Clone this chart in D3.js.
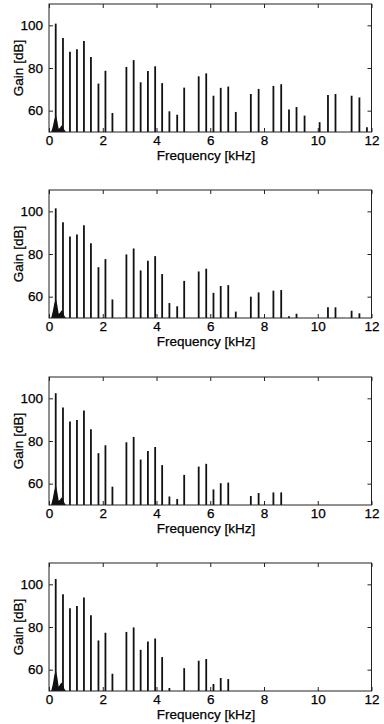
<!DOCTYPE html>
<html>
<head>
<meta charset="utf-8">
<script src="https://cdn.jsdelivr.net/npm/d3@7"></script>
<style>
  body { margin: 0; background: #fff; }
  text { font-family: "Liberation Sans", Arial, Helvetica, sans-serif; fill: #000; }
</style>
</head>
<body>
<script>
// harmonic peak frequencies (kHz), shared by all four spectra
const freqKHz = [0.25, 0.52, 0.78, 1.04, 1.30, 1.56, 1.84, 2.10, 2.36, 2.88, 3.15, 3.41, 3.68, 3.95,
                 4.21, 4.48, 4.77, 5.03, 5.57, 5.85, 6.12, 6.39, 6.67, 6.95, 7.51, 7.80, 8.35, 8.64,
                 8.93, 9.21, 9.51, 10.07, 10.38, 10.66, 11.26, 11.55, 11.83];

// peak gains (dB) per panel, null = no visible peak
const gain1 = [100.8, 94.1, 87.6, 88.8, 92.7, 85.1, 72.7, 78.7, 58.9, 80.5, 83.7, 73.3, 78.6, 80.8,
               72.9, 59.7, 58.1, 70.8, 76.1, 77.5, 67.0, 70.7, 71.3, 59.4, 67.8, 70.2, 71.6, 72.4,
               60.5, 61.7, 57.7, 54.6, 67.4, 67.8, 67.0, 66.2, 52.2];
const gain2 = [101.4, 94.9, 88.2, 89.1, 93.5, 85.0, 73.8, 77.6, 58.7, 79.8, 82.6, 72.3, 76.8, 79.0,
               70.6, 57.0, 55.5, 67.4, 71.8, 73.1, 61.8, 65.0, 65.4, 53.0, 60.0, 62.0, 62.8, 63.1,
               50.8, 52.0, null, null, 55.0, 55.0, 53.4, 52.2, null];
const gain3 = [102.4, 95.7, 89.1, 89.8, 94.3, 85.5, 74.3, 78.0, 58.6, 79.4, 81.9, 71.3, 75.3, 77.2,
               68.7, 54.0, 52.8, 64.1, 68.0, 69.3, 57.3, 60.2, 60.5, null, 54.2, 55.6, 55.9, 55.9,
               null, null, null, null, null, null, null, null, null];
const gain4 = [102.5, 95.3, 88.8, 89.9, 93.8, 85.5, 73.7, 77.3, 58.1, 77.7, 79.8, 69.3, 73.2, 74.6,
               65.9, 51.4, null, 60.7, 64.2, 65.0, 53.3, 56.1, 55.6, null, null, null, null, null,
               null, null, null, null, null, null, null, null, null];

// low-frequency noise hump under the first harmonics
const humpKHz = [0.08, 0.14, 0.20, 0.26, 0.31, 0.36, 0.41, 0.46, 0.52, 0.57, 0.63];
const hump1 = [50, 52.5, 56, 57.8, 55, 51.5, 52, 53, 52.5, 51, 50];
const hump2 = [50, 53, 57, 58.8, 56, 52, 52.5, 53.5, 53, 51, 50];
const hump3 = [50, 53, 57, 59, 56, 52, 52.5, 53.5, 53, 51, 50];
const hump4 = [50, 53, 57.5, 59.5, 56.5, 52, 53, 54, 53, 51, 50];

const xTicks = [0, 2, 4, 6, 8, 10, 12];
const yTicks = [60, 80, 100];

const panels = [
  { top: 4,   gains: gain1, hump: hump1 },
  { top: 190, gains: gain2, hump: hump2 },
  { top: 377, gains: gain3, hump: hump3 },
  { top: 563, gains: gain4, hump: hump4 }
];

const W = 384, H = 724,
      left = 49, right = 371.5, plotH = 128,
      fs = "13.5px";

const svg = d3.select("body").append("svg")
    .attr("width", W)
    .attr("height", H)
    .style("background-color", "white");

const x = d3.scaleLinear().domain([0, 12]).range([left, right]);

panels.forEach(function(p) {
  const y = d3.scaleLinear().domain([50, 110]).range([p.top + plotH, p.top]);
  const g = svg.append("g");

  // noise hump
  g.append("path")
      .datum(humpKHz.map(function(f, i) { return [f, p.hump[i]]; }))
      .attr("fill", "#111")
      .attr("d", d3.area()
          .x(function(d) { return x(d[0]); })
          .y0(y(50))
          .y1(function(d) { return y(d[1]); }));

  // harmonic stems
  const peaks = freqKHz.map(function(f, i) { return { f: f, g: p.gains[i] }; })
      .filter(function(d) { return d.g !== null; });
  g.selectAll("line.stem")
    .data(peaks)
    .enter().append("line")
      .attr("class", "stem")
      .attr("x1", function(d) { return x(d.f); })
      .attr("x2", function(d) { return x(d.f); })
      .attr("y1", y(50))
      .attr("y2", function(d) { return y(d.g); })
      .attr("stroke", "#111")
      .attr("stroke-width", 1.8);

  // axes, ticks pointing inward like matlab
  const axB = g.append("g")
      .attr("transform", "translate(0," + (p.top + plotH) + ")")
      .call(d3.axisBottom(x).tickValues(xTicks).tickSizeInner(-4).tickSizeOuter(0).tickPadding(3));
  const axL = g.append("g")
      .attr("transform", "translate(" + left + ",0)")
      .call(d3.axisLeft(y).tickValues(yTicks).tickSizeInner(-4).tickSizeOuter(0).tickPadding(6));
  g.append("g")
      .attr("transform", "translate(0," + p.top + ")")
      .call(d3.axisTop(x).tickValues(xTicks).tickSizeInner(-4).tickSizeOuter(0).tickFormat(""));
  g.append("g")
      .attr("transform", "translate(" + right + ",0)")
      .call(d3.axisRight(y).tickValues(yTicks).tickSizeInner(-4).tickSizeOuter(0).tickFormat(""));

  g.selectAll(".domain").remove();
  g.selectAll(".tick line").attr("stroke", "#222");
  [axB, axL].forEach(function(a) {
    a.selectAll("text")
        .style("font-size", fs)
        .style("font-family", "'Liberation Sans', Arial, sans-serif")
        .attr("fill", "#000")
        .attr("stroke", "#000")
        .attr("stroke-width", 0.25);
  });

  // frame
  g.append("rect")
      .attr("x", left)
      .attr("y", p.top)
      .attr("width", right - left)
      .attr("height", plotH)
      .attr("fill", "none")
      .attr("stroke", "#222")
      .attr("stroke-width", 1);

  g.append("text")
      .attr("x", 206)
      .attr("y", p.top + plotH + 28)
      .attr("text-anchor", "middle")
      .attr("stroke", "#000")
      .attr("stroke-width", 0.25)
      .style("font-size", fs)
      .text("Frequency [kHz]");

  g.append("text")
      .attr("transform", "translate(23," + (p.top + plotH / 2) + ") rotate(-90)")
      .attr("text-anchor", "middle")
      .attr("stroke", "#000")
      .attr("stroke-width", 0.25)
      .style("font-size", fs)
      .text("Gain [dB]");
});
</script>
</body>
</html>
